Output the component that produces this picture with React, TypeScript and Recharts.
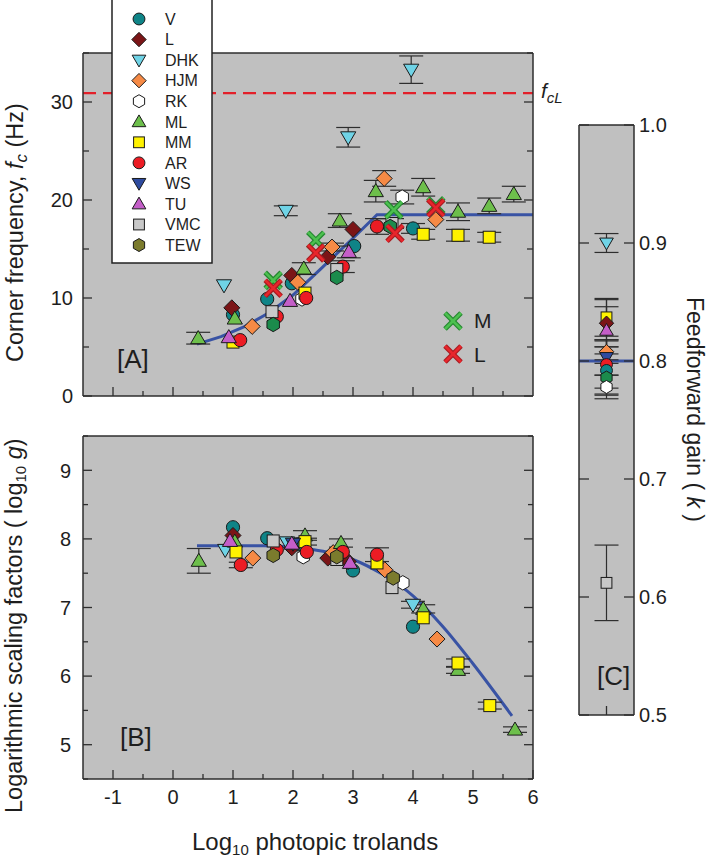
import React from "react";
import { ComposedChart, Scatter, Line, XAxis, YAxis, CartesianGrid, ReferenceLine, ErrorBar } from "recharts";

// ---------- series styling / names ----------
const seriesNames = ["V", "L", "DHK", "HJM", "RK", "ML", "MM", "AR", "WS", "TU", "VMC", "TEW"];
const seriesShapes = ["circle", "diamond", "triDown", "diamond", "hex", "triUp", "square", "circle", "triDown", "triUp", "square", "hex"];
const seriesColors = ["#0f8487", "#7b1517", "#6fd3e6", "#f68a45", "#ffffff", "#6dbf4b", "#fff200", "#ec1c24", "#2e4b9f", "#c45ec8", "#c8c8c8", "#7b7b2d"];
const tewGreen = "#1b8b4c";

// ---------- Panel A : corner frequency (Hz) ----------
type P = { x: number; y: number; e?: number };
const fcV: P[] = [{ x: 1.0, y: 8.3 }, { x: 1.57, y: 9.9 }, { x: 1.98, y: 11.5 }, { x: 3.02, y: 15.3 }, { x: 4.0, y: 17.1, e: 0.5 }];
const fcL: P[] = [{ x: 0.98, y: 9.0 }, { x: 1.98, y: 12.3 }, { x: 2.58, y: 14.2 }, { x: 3.0, y: 17.0 }];
const fcDHK: P[] = [{ x: 0.85, y: 11.3 }, { x: 1.88, y: 18.9, e: 0.5 }, { x: 2.92, y: 26.4, e: 1.0 }, { x: 3.97, y: 33.3, e: 1.4 }];
const fcHJM: P[] = [{ x: 1.32, y: 7.1 }, { x: 2.08, y: 11.6 }, { x: 2.65, y: 15.2, e: 0.4 }, { x: 3.52, y: 22.2, e: 0.8 }, { x: 4.38, y: 18.0 }];
const fcRK: P[] = [{ x: 2.15, y: 9.9 }, { x: 3.82, y: 20.3, e: 0.7 }];
const fcML: P[] = [{ x: 0.42, y: 5.9, e: 0.6 }, { x: 1.03, y: 7.9 }, { x: 2.18, y: 13.0, e: 0.6 }, { x: 2.78, y: 17.9, e: 0.7 }, { x: 3.38, y: 20.9, e: 1.1 }, { x: 4.17, y: 21.3, e: 0.9 }, { x: 4.75, y: 18.8, e: 0.9 }, { x: 5.27, y: 19.4, e: 0.8 }, { x: 5.68, y: 20.6, e: 0.8 }];
const fcMM: P[] = [{ x: 1.0, y: 5.5 }, { x: 2.2, y: 10.5 }, { x: 4.17, y: 16.5, e: 0.5 }, { x: 4.75, y: 16.4, e: 0.6 }, { x: 5.27, y: 16.2, e: 0.5 }];
const fcAR: P[] = [{ x: 1.12, y: 5.7 }, { x: 1.73, y: 8.1 }, { x: 2.22, y: 10.0 }, { x: 2.83, y: 13.2, e: 0.6 }, { x: 3.4, y: 17.3, e: 0.8 }];
const fcWS: P[] = [];
const fcTU: P[] = [{ x: 0.93, y: 6.0 }, { x: 1.95, y: 9.7 }, { x: 2.93, y: 14.7, e: 0.6 }];
const fcVMC: P[] = [{ x: 1.65, y: 8.6 }, { x: 2.73, y: 12.9 }, { x: 3.65, y: 17.6, e: 0.5 }];
const fcTEW: P[] = [{ x: 1.67, y: 7.3 }, { x: 2.73, y: 12.1 }, { x: 3.62, y: 17.3 }];
const coneM: P[] = [{ x: 1.67, y: 11.8 }, { x: 2.38, y: 15.9 }, { x: 3.68, y: 19.0 }, { x: 4.38, y: 19.4 }];
const coneL: P[] = [{ x: 1.67, y: 11.0 }, { x: 2.38, y: 14.6 }, { x: 3.7, y: 16.6 }, { x: 4.38, y: 19.2 }];
const fitA: P[] = [{ x: 0.4, y: 5.3 }, { x: 0.8, y: 6.05 }, { x: 1.2, y: 7.1 }, { x: 1.6, y: 8.5 }, { x: 2.0, y: 10.3 }, { x: 2.45, y: 12.9 }, { x: 3.0, y: 16.1 }, { x: 3.4, y: 18.5 }, { x: 6.0, y: 18.5 }];
const fcLimit = 30.9;

// ---------- Panel B : log10 g ----------
const gV: P[] = [{ x: 1.0, y: 8.17 }, { x: 1.57, y: 8.01 }, { x: 2.08, y: 7.92 }, { x: 3.0, y: 7.54 }, { x: 4.0, y: 6.72 }];
const gL: P[] = [{ x: 1.0, y: 8.05 }, { x: 1.98, y: 7.87 }, { x: 2.58, y: 7.72 }, { x: 2.92, y: 7.67 }];
const gDHK: P[] = [{ x: 0.87, y: 7.84 }, { x: 1.9, y: 7.95 }, { x: 4.0, y: 7.04, e: 0.05 }];
const gHJM: P[] = [{ x: 1.33, y: 7.72 }, { x: 2.67, y: 7.8 }, { x: 3.53, y: 7.55 }, { x: 4.4, y: 6.54 }];
const gRK: P[] = [{ x: 2.17, y: 7.74 }, { x: 3.83, y: 7.36 }];
const gML: P[] = [{ x: 0.43, y: 7.68, e: 0.18 }, { x: 1.03, y: 7.96 }, { x: 2.2, y: 8.05, e: 0.07 }, { x: 2.8, y: 7.94, e: 0.06 }, { x: 4.17, y: 6.98, e: 0.06 }, { x: 4.75, y: 6.09, e: 0.05 }, { x: 5.7, y: 5.22, e: 0.04 }];
const gMM: P[] = [{ x: 1.05, y: 7.81 }, { x: 2.2, y: 7.96, e: 0.05 }, { x: 3.4, y: 7.65 }, { x: 4.17, y: 6.85 }, { x: 4.75, y: 6.19, e: 0.06 }, { x: 5.28, y: 5.57, e: 0.05 }];
const gAR: P[] = [{ x: 1.13, y: 7.62, e: 0.04 }, { x: 1.73, y: 7.84 }, { x: 2.23, y: 7.81 }, { x: 2.83, y: 7.81 }, { x: 3.4, y: 7.77, e: 0.1 }];
const gWS: P[] = [{ x: 2.0, y: 7.93 }];
const gTU: P[] = [{ x: 0.95, y: 7.97 }, { x: 1.98, y: 7.93 }, { x: 2.95, y: 7.65 }];
const gVMC: P[] = [{ x: 1.67, y: 7.97 }, { x: 2.73, y: 7.7 }, { x: 3.65, y: 7.29 }];
const gTEW: P[] = [{ x: 1.67, y: 7.76 }, { x: 2.73, y: 7.74 }, { x: 3.67, y: 7.43 }];
const fitB: P[] = [{ x: 0.4, y: 7.9 }, { x: 1.0, y: 7.9 }, { x: 1.5, y: 7.9 }, { x: 2.0, y: 7.88 }, { x: 2.5, y: 7.82 }, { x: 3.0, y: 7.7 }, { x: 3.5, y: 7.48 }, { x: 4.0, y: 7.17 }, { x: 4.5, y: 6.72 }, { x: 5.0, y: 6.18 }, { x: 5.65, y: 5.42 }];

// ---------- Panel C : feedforward gain k ----------
const kNames = ["DHK", "MM", "L", "TU", "HJM", "WS", "AR", "V", "TEW", "RK", "VMC"];
const kValues = [0.9, 0.837, 0.832, 0.826, 0.808, 0.803, 0.797, 0.792, 0.786, 0.778, 0.612];
const kErrors = [0.008, 0.016, 0.02, 0.02, 0.01, 0.015, 0.02, 0.02, 0.015, 0.01, 0.032];
const kFit = 0.8;

// ---------- ticks ----------
const xTicksHalf = [-1, -0.5, 0, 0.5, 1, 1.5, 2, 2.5, 3, 3.5, 4, 4.5, 5, 5.5];
const xTicksB = [-1, -0.5, 0, 0.5, 1, 1.5, 2, 2.5, 3, 3.5, 4, 4.5, 5, 5.5, 6];
const xLabels = [-1, 0, 1, 2, 3, 4, 5, 6];
const yTicksA = [0, 5, 10, 15, 20, 25, 30, 35];
const yLabelsA = [0, 10, 20, 30];
const yTicksB = [4.5, 5, 5.5, 6, 6.5, 7, 7.5, 8, 8.5, 9, 9.5];
const yLabelsB = [5, 6, 7, 8, 9];
const yTicksC = [0.5, 0.6, 0.7, 0.8, 0.9, 1.0];

const fcSeries = [fcV, fcL, fcDHK, fcHJM, fcRK, fcML, fcMM, fcAR, fcWS, fcTU, fcVMC, fcTEW];
const gSeries = [gV, gL, gDHK, gHJM, gRK, gML, gMM, gAR, gWS, gTU, gVMC, gTEW];

const FONT = "'Liberation Sans', Arial, Helvetica, sans-serif";
const BG = "#c0c0c0";
const AXIS = "#2e2e2e";
const BLUE = "#3953a4";
const TXT = "#1e1e1e";

// ---------- markers ----------
function Marker({ kind, fill, cx, cy, s = 1 }: any) {
  if (cx == null || cy == null) return null;
  const st = { fill, stroke: "#1a1a1a", strokeWidth: 1 };
  switch (kind) {
    case "circle":
      return <circle cx={cx} cy={cy} r={6.6 * s} {...st} />;
    case "diamond": {
      const d = 8 * s;
      return <polygon points={`${cx},${cy - d} ${cx + d},${cy} ${cx},${cy + d} ${cx - d},${cy}`} {...st} />;
    }
    case "triUp": {
      const a = 7.6 * s;
      return <polygon points={`${cx},${cy - a} ${cx + a},${cy + a * 0.72} ${cx - a},${cy + a * 0.72}`} {...st} />;
    }
    case "triDown": {
      const a = 7.6 * s;
      return <polygon points={`${cx},${cy + a} ${cx + a},${cy - a * 0.72} ${cx - a},${cy - a * 0.72}`} {...st} />;
    }
    case "square": {
      const h = 6 * s;
      return <rect x={cx - h} y={cy - h} width={2 * h} height={2 * h} {...st} />;
    }
    case "hex": {
      const r = 7.2 * s;
      const pts = [-90, -30, 30, 90, 150, 210]
        .map((a) => `${cx + r * Math.cos((a * Math.PI) / 180)},${cy + r * Math.sin((a * Math.PI) / 180)}`)
        .join(" ");
      return <polygon points={pts} {...st} />;
    }
    default:
      return null;
  }
}

function Cross({ cx, cy, color, dark, s = 1 }: any) {
  if (cx == null || cy == null) return null;
  const d = 8 * s;
  return (
    <g>
      <line x1={cx - d} y1={cy - d} x2={cx + d} y2={cy + d} stroke={dark} strokeWidth={5} />
      <line x1={cx - d} y1={cy + d} x2={cx + d} y2={cy - d} stroke={dark} strokeWidth={5} />
      <line x1={cx - d} y1={cy - d} x2={cx + d} y2={cy + d} stroke={color} strokeWidth={2.6} />
      <line x1={cx - d} y1={cy + d} x2={cx + d} y2={cy - d} stroke={color} strokeWidth={2.6} />
    </g>
  );
}

function seriesScatters(data: P[], idx: number, key: string, color?: string) {
  const fill = color || seriesColors[idx];
  const shape = (p: any) => <Marker kind={seriesShapes[idx]} fill={fill} cx={p.cx} cy={p.cy} />;
  const plain = data.filter((d) => d.e === undefined);
  const withErr = data.filter((d) => d.e !== undefined);
  const out: any[] = [];
  if (withErr.length)
    out.push(
      <Scatter key={key + "e"} data={withErr} shape={shape} isAnimationActive={false}>
        <ErrorBar dataKey="e" direction="y" width={12} stroke={AXIS} strokeWidth={1.2} />
      </Scatter>
    );
  if (plain.length) out.push(<Scatter key={key + "p"} data={plain} shape={shape} isAnimationActive={false} />);
  return out;
}

// ---------- ticks ----------
type TickOpts = { side: "left" | "right" | "top" | "bottom"; longSet: number[]; long: number; short: number; labels?: number[]; fmt?: (v: number) => string; gap?: number; fontSize?: number };
const has = (arr: number[] | undefined, v: number) => !!arr && arr.some((t) => Math.abs(t - v) < 1e-9);
function makeTick(o: TickOpts) {
  return (p: any) => {
    const { x, y, payload } = p;
    const v = payload.value;
    const len = has(o.longSet, v) ? o.long : o.short;
    let x2 = x, y2 = y;
    if (o.side === "left") x2 = x + len;
    if (o.side === "right") x2 = x - len;
    if (o.side === "bottom") y2 = y - len;
    if (o.side === "top") y2 = y + len;
    const gap = o.gap ?? 9;
    const fs = o.fontSize ?? 20;
    const lab = has(o.labels, v) ? (o.fmt ? o.fmt(v) : String(v)) : null;
    let label = null;
    if (lab !== null) {
      if (o.side === "left")
        label = <text x={x - gap} y={y} dy="0.36em" textAnchor="end" fontSize={fs} fill={TXT}>{lab}</text>;
      else if (o.side === "right")
        label = <text x={x + gap} y={y} dy="0.36em" textAnchor="start" fontSize={fs} fill={TXT}>{lab}</text>;
      else if (o.side === "bottom")
        label = <text x={x} y={y + gap} dy="0.72em" textAnchor="middle" fontSize={fs} fill={TXT}>{lab}</text>;
    }
    return (
      <g>
        {len > 0 && <line x1={x} y1={y} x2={x2} y2={y2} stroke={AXIS} strokeWidth={1.3} />}
        {label}
      </g>
    );
  };
}

const axisCommon: any = {
  type: "number",
  allowDataOverflow: true,
  interval: 0,
  tickSize: 0,
  tickMargin: 0,
  tickLine: false,
  axisLine: { stroke: AXIS, strokeWidth: 1.5 },
};

const W = 711;
const H = 860;

function PanelA() {
  return (
    <ComposedChart width={W} height={H} margin={{ top: 23, left: 43, right: 138, bottom: 434 }}>
      <CartesianGrid fill={BG} horizontal={false} vertical={false} />
      <XAxis {...axisCommon} dataKey="x" domain={[-1.5, 6]} ticks={xTicksHalf} height={30} tick={makeTick({ side: "bottom", longSet: xLabels, long: 9, short: 5 })} />
      <XAxis {...axisCommon} xAxisId="t" orientation="top" domain={[-1.5, 6]} ticks={xTicksHalf} height={30} tick={makeTick({ side: "top", longSet: xLabels, long: 9, short: 5 })} />
      <YAxis {...axisCommon} dataKey="y" domain={[0, 35]} ticks={yTicksA} width={40} tick={makeTick({ side: "left", longSet: yLabelsA, long: 9, short: 6, labels: yLabelsA, gap: 10 })} />
      <YAxis {...axisCommon} yAxisId="r" orientation="right" domain={[0, 35]} ticks={yTicksA} width={40} tick={makeTick({ side: "right", longSet: yLabelsA, long: 9, short: 6 })} />
      <ReferenceLine y={fcLimit} stroke="#e3202a" strokeWidth={2.2} strokeDasharray="13 7" />
      <Line data={fitA} dataKey="y" type="linear" stroke={BLUE} strokeWidth={3} dot={false} activeDot={false} isAnimationActive={false} />
      {fcSeries.flatMap((d, i) => seriesScatters(d, i, "a" + i, i === 11 ? tewGreen : undefined))}
      <Scatter data={coneM} isAnimationActive={false} shape={(p: any) => <Cross cx={p.cx} cy={p.cy} color="#4cc04f" dark="#24862f" />} />
      <Scatter data={coneL} isAnimationActive={false} shape={(p: any) => <Cross cx={p.cx} cy={p.cy} color="#e8262c" dark="#a81b20" />} />
    </ComposedChart>
  );
}

function PanelB() {
  return (
    <ComposedChart width={W} height={H} margin={{ top: 406, left: 43, right: 138, bottom: 51 }}>
      <CartesianGrid fill={BG} horizontal={false} vertical={false} />
      <XAxis {...axisCommon} dataKey="x" domain={[-1.5, 6]} ticks={xTicksB} height={30} tick={makeTick({ side: "bottom", longSet: xLabels, long: 9, short: 5, labels: xLabels, gap: 11 })} />
      <XAxis {...axisCommon} xAxisId="t" orientation="top" domain={[-1.5, 6]} ticks={xTicksHalf} height={30} tick={makeTick({ side: "top", longSet: xLabels, long: 9, short: 5 })} />
      <YAxis {...axisCommon} dataKey="y" domain={[4.5, 9.5]} ticks={yTicksB} width={40} tick={makeTick({ side: "left", longSet: yLabelsB, long: 9, short: 5, labels: yLabelsB, gap: 12 })} />
      <YAxis {...axisCommon} yAxisId="r" orientation="right" domain={[4.5, 9.5]} ticks={yTicksB} width={40} tick={makeTick({ side: "right", longSet: yLabelsB, long: 9, short: 5 })} />
      <Line data={fitB} dataKey="y" type="monotone" stroke={BLUE} strokeWidth={3} dot={false} activeDot={false} isAnimationActive={false} />
      {gSeries.flatMap((d, i) => seriesScatters(d, i, "b" + i))}
    </ComposedChart>
  );
}

function PanelC() {
  const rows = kNames.map((n, i) => ({ name: n, x: 1, y: kValues[i], e: kErrors[i] }));
  return (
    <ComposedChart width={W} height={H} margin={{ top: 95, left: 539, right: 37, bottom: 115 }}>
      <CartesianGrid fill={BG} horizontal={false} vertical={false} />
      <XAxis {...axisCommon} dataKey="x" domain={[0, 2]} ticks={[1]} height={30} tick={makeTick({ side: "bottom", longSet: [1], long: 9, short: 9 })} />
      <XAxis {...axisCommon} xAxisId="t" orientation="top" domain={[0, 2]} ticks={[1]} height={30} tick={makeTick({ side: "top", longSet: [1], long: 9, short: 9 })} />
      <YAxis {...axisCommon} dataKey="y" domain={[0.5, 1.0]} ticks={yTicksC} width={40} tick={makeTick({ side: "left", longSet: yTicksC, long: 10, short: 10 })} />
      <YAxis {...axisCommon} yAxisId="r" orientation="right" domain={[0.5, 1.0]} ticks={yTicksC} width={40} tick={makeTick({ side: "right", longSet: yTicksC, long: 10, short: 10, labels: yTicksC, fmt: (v) => v.toFixed(1), gap: 5 })} />
      <ReferenceLine y={kFit} stroke={BLUE} strokeWidth={3} />
      <Scatter data={rows} isAnimationActive={false} shape={(p: any) => {
        const idx = seriesNames.indexOf(p.payload?.name);
        return <Marker kind={seriesShapes[idx]} fill={idx === 11 ? tewGreen : seriesColors[idx]} cx={p.cx} cy={p.cy} s={0.9} />;
      }}>
        <ErrorBar dataKey="e" direction="y" width={12} stroke={AXIS} strokeWidth={1.2} />
      </Scatter>
    </ComposedChart>
  );
}

function Overlay() {
  return (
    <svg width={W} height={H} style={{ position: "absolute", left: 0, top: 0, pointerEvents: "none" }}>
      {/* legend */}
      <rect x={112} y={-2} width={100} height={265} fill="#ffffff" stroke="#222" strokeWidth={1.5} />
      {seriesNames.map((n, i) => {
        const cy = 19 + i * 20.55;
        return (
          <g key={n}>
            <Marker kind={seriesShapes[i]} fill={seriesColors[i]} cx={139} cy={cy} s={0.9} />
            <text x={165} y={cy} dy="0.36em" fontSize={16} fill={TXT}>{n}</text>
          </g>
        );
      })}
      {/* cone legend in panel A */}
      <Cross cx={453} cy={321} color="#4cc04f" dark="#24862f" />
      <text x={474} y={328} fontSize={21} fill={TXT}>M</text>
      <Cross cx={453} cy={354} color="#e8262c" dark="#a81b20" />
      <text x={474} y={362} fontSize={21} fill={TXT}>L</text>
      {/* panel tags */}
      <text x={117} y={368} fontSize={26} fill={TXT}>[A]</text>
      <text x={120} y={746} fontSize={26} fill={TXT}>[B]</text>
      <text x={597} y={685} fontSize={26} fill={TXT}>[C]</text>
      {/* f_cL label */}
      <text x={541} y={98} fontSize={21} fontStyle="italic" fill={TXT}>
        f<tspan fontSize={15} dy={5}>cL</tspan>
      </text>
      {/* axis titles */}
      <text transform="translate(23,362) rotate(-90)" fontSize={23.5} fill={TXT}>
        Corner frequency, <tspan fontStyle="italic">f</tspan>
        <tspan fontStyle="italic" fontSize={17} dy={4}>c</tspan>
        <tspan dy={-4}> (Hz)</tspan>
      </text>
      <text transform="translate(22,813) rotate(-90)" fontSize={23.5} fill={TXT}>
        Logarithmic scaling factors ( log<tspan fontSize={15} dy={4}>10</tspan>
        <tspan dy={-4}> </tspan>
        <tspan fontStyle="italic">g</tspan>)
      </text>
      <text x={192} y={850} fontSize={24} fill={TXT}>
        Log<tspan fontSize={15} dy={5}>10</tspan>
        <tspan dy={-5}> photopic trolands</tspan>
      </text>
      <text transform="translate(687,297) rotate(90)" fontSize={23} fill={TXT}>
        Feedforward gain ( <tspan fontStyle="italic">k</tspan> )
      </text>
    </svg>
  );
}

export default function App() {
  return (
    <div style={{ position: "absolute", left: 0, top: 0, width: W, height: H, background: "#ffffff", fontFamily: FONT, overflow: "hidden" }}>
      <div style={{ position: "absolute", left: 0, top: 0 }}><PanelA /></div>
      <div style={{ position: "absolute", left: 0, top: 0 }}><PanelB /></div>
      <div style={{ position: "absolute", left: 0, top: 0 }}><PanelC /></div>
      <Overlay />
    </div>
  );
}
